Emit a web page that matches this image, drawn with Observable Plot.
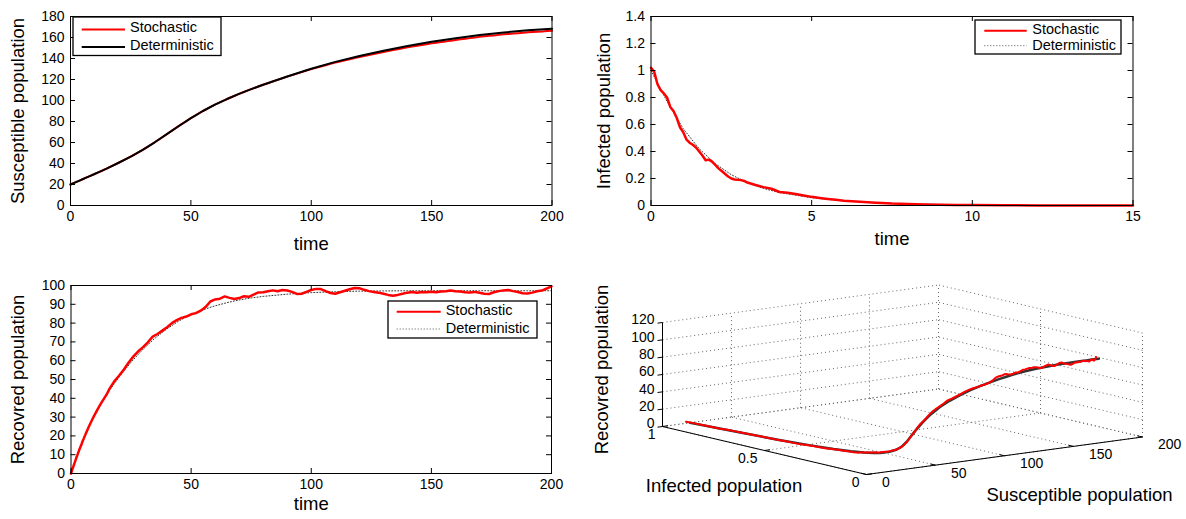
<!DOCTYPE html>
<html><head><meta charset="utf-8">
<script src="https://cdn.jsdelivr.net/npm/d3@7"></script>
<script src="https://cdn.jsdelivr.net/npm/@observablehq/plot@0.6"></script>
<style>
body{margin:0;background:#fff;}
#root{position:relative;width:1186px;height:519px;overflow:hidden;font-family:"Liberation Sans",Arial,Helvetica,sans-serif;}
</style></head><body><div id="root"></div>
<script>
// ---------- Deterministic solution ----------
const tDet = [0,0.5,1,1.5,2,2.5,3,3.5,4, 5,6,7,8, 10,12,15,
  20,25,30,35,40,45,50,55,60,65,70,75,80,
  90,100,110,120,130,140,150,160,170,180,190,200];
const detS = [20,20.5,21,21.5,22,22.5,23,23.5,24, 25,26,27,28, 30,32,35.2,
  40.7,46.5,53,60.2,67.9,75.7,83.2,90,96,101.4,106.3,110.8,115,
  122.9,130.3,136.8,142.4,147.4,151.9,155.9,159.3,162.3,164.8,166.8,168.4];
const detI = [1,0.77,0.57,0.42,0.31,0.228,0.168,0.126,0.096, 0.057,0.034,0.02,0.012, 0.004,0.0013,0.0002,
  0,0,0,0,0,0,0,0,0,0,0,0,0,
  0,0,0,0,0,0,0,0,0,0,0,0];
const detR = [0,1.9,3.8,5.7,7.5,9.3,11,12.8,14.4, 17.7,20.7,23.7,26.5, 31.6,36.2,42.4,
  51.3,59.2,66.1,72,77,81.2,84.5,87.1,89.2,90.9,92.3,93.4,94.2,
  95.4,96.2,96.7,97,97.1,97.2,97.2,97.2,97.2,97.2,97.2,97.2];

// ---------- Stochastic realisation ----------
const stoT = [0,0.1,0.2,0.3,0.4,0.5,0.6,0.7,0.8,0.9,1,1.1,1.2,1.3,1.4,1.5,1.6,1.7,1.8,1.9,2,2.1,2.2,2.3,2.4,2.5,2.6,2.7,2.8,2.9,3,
  3.25,3.5,3.75,4,4.25,4.5,4.75,5,5.25,5.5,5.75,6,
  6.5,7,7.5,8,8.5,9,9.5,10,
  11,12,13,14,15,
  16,18,20,22,24,26,28,30,32,34,36,38,40,42,44,46,48,50,52,54,56,58,60,62,64,66,68,70,72,74,76,78,80,82,84,86,88,90,92,94,96,98,100,
  102,104,106,108,110,112,114,116,118,120,122,124,126,128,130,132,134,136,138,140,142,144,146,148,150,152,154,156,158,160,162,164,166,168,170,172,174,176,178,180,182,184,186,188,190,192,194,196,198,200];
const stoS = [20.0,20.1,20.2,20.3,20.4,20.5,20.6,20.7,20.8,20.9,21.0,21.1,21.2,21.3,21.4,21.5,21.6,21.7,21.8,21.9,22.0,22.1,22.2,22.3,22.4,22.5,22.6,22.7,22.8,22.9,23.0,
  23.2,23.5,23.7,24.0,24.2,24.5,24.7,25.0,25.2,25.5,25.7,26.0,
  26.5,27.0,27.5,28.0,28.5,29.0,29.5,30.0,
  31.0,32.0,33.0,34.1,35.2,
  36.3,38.5,40.7,43.0,45.3,47.8,50.4,53.0,55.9,58.8,
  61.7,64.8,67.9,71.0,74.1,77.2,80.2,83.2,85.9,88.6,
  91.2,93.6,96.0,98.2,100.3,102.4,104.3,106.3,108.1,109.9,
  111.6,113.3,115.0,116.5,118.1,119.6,121.1,122.7,124.2,125.6,
  127.0,128.5,129.9,131.1,132.4,133.6,134.9,136.1,137.1,138.2,
  139.3,140.4,141.4,142.4,143.3,144.3,145.3,146.2,147.1,148.0,
  148.8,149.7,150.6,151.3,152.1,152.9,153.6,154.4,155.1,155.8,
  156.3,157.0,157.7,158.3,158.9,159.4,160.0,160.6,161.1,161.6,
  162.0,162.5,163.0,163.4,163.8,164.1,164.5,164.9,165.2,165.5,
  165.8,166.1,166.4];
const stoI = [1.02,0.99,0.90,0.855,0.83,0.80,0.73,0.70,0.65,0.58,0.545,0.49,0.465,0.45,0.43,0.40,0.37,0.335,0.34,0.325,0.30,0.275,0.255,0.235,0.215,0.20,0.193,0.19,0.188,0.182,0.17,
  0.152,0.136,0.124,0.10,0.094,0.085,0.074,0.064,0.056,0.049,0.042,0.036,
  0.027,0.02,0.014,0.011,0.008,0.006,0.004,0.003,
  0.0015,0.0008,0.0003,0.0001,0,
  0,0,0,0,0,0,0,0,0,0,
  0,0,0,0,0,0,0,0,0,0,
  0,0,0,0,0,0,0,0,0,0,
  0,0,0,0,0,0,0,0,0,0,
  0,0,0,0,0,0,0,0,0,0,
  0,0,0,0,0,0,0,0,0,0,
  0,0,0,0,0,0,0,0,0,0,
  0,0,0,0,0,0,0,0,0,0,
  0,0,0,0,0,0,0,0,0,0,
  0,0,0];
const stoR = [0,0.4,0.8,1.1,1.5,1.9,2.3,2.7,3.0,3.4,3.8,4.2,4.5,4.9,5.3,5.7,6.0,6.4,6.8,7.1,7.5,7.9,8.2,8.6,8.9,9.3,9.6,10.0,10.3,10.7,11.0,
  11.9,12.8,13.6,14.4,15.2,16.0,16.9,17.7,18.4,19.2,20.0,20.7,
  22.2,23.7,25.1,26.5,27.8,29.1,30.4,31.6,
  34.0,36.2,38.4,40.4,42.4,
  45.0,49.0,52.0,55.3,59.0,62.3,65.0,67.2,69.8,72.8,
  74.2,76.0,77.8,80.0,81.6,82.8,83.5,84.7,85.3,86.6,
  88.5,91.5,92.6,93.0,94.2,93.4,92.8,93.3,94.3,94.0,
  95.2,96.3,96.4,96.9,97.4,96.9,97.6,97.3,96.6,95.5,
  95.6,96.6,97.6,98.2,98.1,97.0,96.0,95.6,96.4,97.2,
  98.0,98.7,98.6,97.7,97.0,96.6,96.2,95.6,95.0,94.6,
  95.0,95.6,96.2,96.5,96.2,96.6,96.4,96.7,96.4,96.8,
  97.0,97.3,97.0,96.8,96.4,96.3,96.6,96.1,95.6,95.5,
  96.4,97.0,97.4,97.6,97.0,96.5,95.9,95.7,96.2,96.9,
  97.3,98.4,99.6];

// ---------- Tick values ----------
const timeTicks200 = [0,50,100,150,200];
const timeTicks15 = [0,5,10,15];
const sTicks = [0,20,40,60,80,100,120,140,160,180];
const iTicks = [0,0.2,0.4,0.6,0.8,1,1.2,1.4];
const rTicks = [0,10,20,30,40,50,60,70,80,90,100];
const s3Ticks = [0,50,100,150,200];
const i3Ticks = [0,0.5,1];
const r3Ticks = [0,20,40,60,80,100,120];

// ---------- Build ----------
const FONT = '"Liberation Sans", Arial, Helvetica, sans-serif';
const RED = "#ff0000";
const root = document.getElementById("root");
function place(el, left, top) {
  el.style.position = "absolute"; el.style.left = left + "px"; el.style.top = top + "px";
  root.appendChild(el);
}
const sto = stoT.map((t, k) => ({t, S: stoS[k], I: stoI[k], R: stoR[k]}));
const det = tDet.map((t, k) => ({t, S: detS[k], I: detI[k], R: detR[k]}));

function panel2D(o) {
  const fw = o.width - o.ml - o.mr, fh = o.height - o.mt - o.mb;
  return Plot.plot({
    width: o.width, height: o.height,
    marginLeft: o.ml, marginRight: o.mr, marginTop: o.mt, marginBottom: o.mb,
    style: {fontFamily: FONT, fontSize: "14px", color: "#000", background: "transparent", overflow: "visible"},
    x: {domain: o.xDomain, ticks: o.xTicks, tickSize: 0, tickPadding: 6, label: null, tickFormat: d => String(d)},
    y: {domain: o.yDomain, ticks: o.yTicks, tickSize: 0, tickPadding: 6, label: null, tickFormat: d => String(d)},
    marks: [
      ...o.marks,
      Plot.tickX(o.xTicks, {x: d => d, insetTop: fh - 5, stroke: "#000"}),
      Plot.tickX(o.xTicks, {x: d => d, insetBottom: fh - 5, stroke: "#000"}),
      Plot.tickY(o.yTicks, {y: d => d, insetRight: fw - 5, stroke: "#000"}),
      Plot.tickY(o.yTicks, {y: d => d, insetLeft: fw - 5, stroke: "#000"}),
      Plot.frame({stroke: "#000"}),
      Plot.text(["time"], {frameAnchor: "bottom", dy: o.xlabelDy, fontSize: 18.5, textAnchor: "middle", lineAnchor: "middle", fill: "#000"}),
      Plot.text([o.ylabel], {frameAnchor: "left", dx: o.ylabelDx, rotate: -90, fontSize: 18.5, textAnchor: "middle", lineAnchor: "middle", fill: "#000"})
    ]
  });
}

// Panel 1: susceptible
place(panel2D({
  width: 560, height: 260, ml: 70, mr: 8.5, mt: 16, mb: 55,
  xDomain: [0, 200], xTicks: timeTicks200, yDomain: [0, 180], yTicks: sTicks,
  ylabel: "Susceptible population", ylabelDx: -52, xlabelDy: 39,
  marks: [
    Plot.line(sto, {x: "t", y: "S", stroke: RED, strokeWidth: 2}),
    Plot.line(det, {x: "t", y: "S", stroke: "#000", strokeWidth: 2})
  ]
}), 0, 0);

// Panel 2: infected
place(panel2D({
  width: 606, height: 260, ml: 70.5, mr: 53.5, mt: 16, mb: 55,
  xDomain: [0, 15], xTicks: timeTicks15, yDomain: [0, 1.4], yTicks: iTicks,
  ylabel: "Infected population", ylabelDx: -47, xlabelDy: 34,
  marks: [
    Plot.line(det.filter(d => d.t <= 15), {x: "t", y: "I", stroke: "#333", strokeWidth: 1, strokeDasharray: "1,2"}),
    Plot.line(sto.filter(d => d.t <= 15), {x: "t", y: "I", stroke: RED, strokeWidth: 2.5})
  ]
}), 580, 0);

// Panel 3: recovered
place(panel2D({
  width: 560, height: 259, ml: 70.5, mr: 9, mt: 25, mb: 46,
  xDomain: [0, 200], xTicks: timeTicks200, yDomain: [0, 100], yTicks: rTicks,
  ylabel: "Recovred population", ylabelDx: -53, xlabelDy: 31,
  marks: [
    Plot.line(det, {x: "t", y: "R", stroke: "#333", strokeWidth: 1, strokeDasharray: "1,2"}),
    Plot.line(sto, {x: "t", y: "R", stroke: RED, strokeWidth: 2.5})
  ]
}), 0, 260);

// Panel 4: 3-D phase portrait (orthographic view)
const view = {sx: 1.38, sy: 0.1875, ix: -204, iy: 48, rz: 0.8667};
const pu = (S, I, R) => S * view.sx + I * view.ix;
const pv = (S, I, R) => S * view.sy + I * view.iy + R * view.rz;
const sMax = 200, iMax = 1, rMax = 120;
const gridSegs = [];
r3Ticks.forEach(R => {
  gridSegs.push({a: [0, iMax, R], b: [sMax, iMax, R]});
  gridSegs.push({a: [sMax, 0, R], b: [sMax, iMax, R]});
});
s3Ticks.forEach(S => {
  gridSegs.push({a: [S, iMax, 0], b: [S, iMax, rMax]});
  gridSegs.push({a: [S, 0, 0], b: [S, iMax, 0]});
});
i3Ticks.forEach(I => {
  gridSegs.push({a: [sMax, I, 0], b: [sMax, I, rMax]});
  gridSegs.push({a: [0, I, 0], b: [sMax, I, 0]});
});
const axisSegs = [
  {a: [0, iMax, 0], b: [0, iMax, rMax]},
  {a: [0, 0, 0], b: [0, iMax, 0]},
  {a: [0, 0, 0], b: [sMax, 0, 0]}
];
const seg = (marksData, opts) => Plot.link(marksData, {
  x1: d => pu(...d.a), y1: d => pv(...d.a), x2: d => pu(...d.b), y2: d => pv(...d.b), ...opts
});
const p4 = Plot.plot({
  width: 606, height: 259, margin: 0,
  style: {fontFamily: FONT, fontSize: "14px", color: "#000", background: "transparent", overflow: "visible"},
  x: {domain: [-286, 320], range: [0, 606], axis: null},
  y: {domain: [-45, 214], range: [259, 0], axis: null},
  marks: [
    seg(gridSegs, {stroke: "#666", strokeWidth: 1, strokeDasharray: "1,3"}),
    seg(axisSegs, {stroke: "#000", strokeWidth: 1}),
    seg(r3Ticks.map(R => ({a: [0, iMax, R], b: [-3.6, iMax, R]})), {stroke: "#000"}),
    seg(i3Ticks.map(I => ({a: [0, I, 0], b: [4, I, 0]})), {stroke: "#000"}),
    seg(s3Ticks.map(S => ({a: [S, 0, 0], b: [S, 0.025, 0]})), {stroke: "#000"}),
    Plot.text(r3Ticks, {x: d => pu(0, iMax, d), y: d => pv(0, iMax, d), dx: -8, dy: -2.5, textAnchor: "end", text: d => String(d), fill: "#000"}),
    Plot.text(i3Ticks, {x: d => pu(0, d, 0), y: d => pv(0, d, 0), dx: -7, dy: 8.5, textAnchor: "end", text: d => String(d), fill: "#000"}),
    Plot.text(s3Ticks, {x: d => pu(d, 0, 0), y: d => pv(d, 0, 0), dx: 15.5, dy: 8, textAnchor: "start", text: d => String(d), fill: "#000"}),
    Plot.line(det, {x: d => pu(d.S, d.I, d.R), y: d => pv(d.S, d.I, d.R), stroke: "#333", strokeWidth: 2.5}),
    Plot.line(sto, {x: d => pu(d.S, d.I, d.R), y: d => pv(d.S, d.I, d.R), stroke: RED, strokeWidth: 2}),
    Plot.text(["Recovred population"], {frameAnchor: "top-left", dx: 21.7, dy: 109, rotate: -90, fontSize: 18.5, textAnchor: "middle", lineAnchor: "middle", fill: "#000"}),
    Plot.text(["Infected population"], {frameAnchor: "top-left", dx: 143.5, dy: 226, fontSize: 18.5, textAnchor: "middle", lineAnchor: "middle", fill: "#000"}),
    Plot.text(["Susceptible population"], {frameAnchor: "top-left", dx: 499, dy: 235, fontSize: 18.5, textAnchor: "middle", lineAnchor: "middle", fill: "#000"})
  ]
});
place(p4, 580, 260);

// ---------- Legends ----------
function legend(left, top, w, h, rows) {
  const svg = d3.create("svg").attr("width", w + 4).attr("height", h + 4)
    .style("position", "absolute").style("left", (left - 2) + "px").style("top", (top - 2) + "px");
  svg.append("rect").attr("x", 2).attr("y", 2).attr("width", w).attr("height", h)
    .attr("fill", "#fff").attr("stroke", "#000").attr("stroke-width", 1.3);
  rows.forEach(r => {
    svg.append("line").attr("x1", 2 + r.x1).attr("x2", 2 + r.x2).attr("y1", 2 + r.ly).attr("y2", 2 + r.ly)
      .attr("stroke", r.color).attr("stroke-width", r.width).attr("stroke-dasharray", r.dash || null);
    svg.append("text").attr("x", 2 + r.tx).attr("y", 2 + r.by).text(r.label)
      .attr("font-family", FONT).attr("font-size", 14.5).attr("fill", "#000");
  });
  root.appendChild(svg.node());
}
legend(73, 16.5, 148, 38.5, [
  {x1: 8.7, x2: 52, ly: 12.5, tx: 57, by: 15, color: RED, width: 2, label: "Stochastic"},
  {x1: 8.7, x2: 52, ly: 30, tx: 57, by: 33.2, color: "#000", width: 2, label: "Deterministic"}
]);
legend(975, 20, 146, 34, [
  {x1: 9.3, x2: 51.7, ly: 10.7, tx: 57.3, by: 14.3, color: RED, width: 2, label: "Stochastic"},
  {x1: 9.3, x2: 51.7, ly: 25.7, tx: 57.3, by: 29.5, color: "#555", width: 1, dash: "1,2", label: "Deterministic"}
]);
legend(388, 301, 149, 37, [
  {x1: 8.7, x2: 52.7, ly: 10.7, tx: 57.7, by: 14, color: RED, width: 2, label: "Stochastic"},
  {x1: 8.7, x2: 52.7, ly: 28, tx: 57.7, by: 31.7, color: "#555", width: 1, dash: "1,2", label: "Deterministic"}
]);
</script></body></html>
